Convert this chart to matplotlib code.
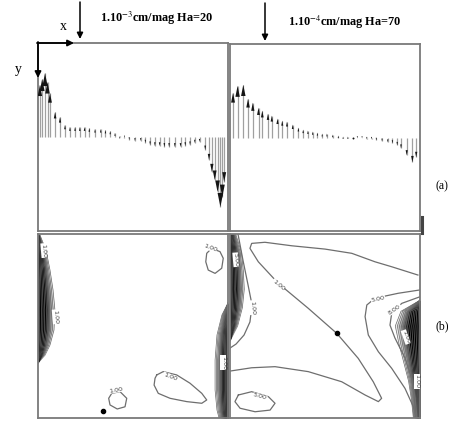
import numpy as np
import matplotlib
matplotlib.use("Agg")
import matplotlib.pyplot as plt

W, H = 476, 421

# ---- top row: vertical velocity along the mid line (pixels of panel height, + = up)
xa = [0.01, 0.022, 0.037, 0.05, 0.063, 0.09, 0.116, 0.142, 0.168, 0.195, 0.22, 0.245,
      0.27, 0.30, 0.33, 0.355, 0.38, 0.405, 0.43, 0.455, 0.48, 0.51, 0.54, 0.565,
      0.59, 0.615, 0.64, 0.665, 0.69, 0.72, 0.75, 0.775, 0.80, 0.825, 0.85, 0.88,
      0.90, 0.915, 0.93, 0.945, 0.96, 0.97, 0.98]
va_px = [52, 58, 64, 55, 44, 25, 20, 12, 10, 10, 10, 10,
         9, 8, 8, 7, 6, 4, 1, -1, -3, -4, -4, -6,
         -8, -9, -9, -10, -10, -10, -10, -9, -8, -6, -5, -13,
         -23, -35, -43, -55, -70, -60, -45]

xb = [0.016, 0.04, 0.07, 0.095, 0.12, 0.15, 0.17, 0.2, 0.22, 0.25, 0.275, 0.3,
      0.33, 0.36, 0.385, 0.41, 0.435, 0.46, 0.485, 0.51, 0.54, 0.57, 0.595, 0.62,
      0.645, 0.67, 0.695, 0.72, 0.745, 0.77, 0.80, 0.83, 0.855, 0.88, 0.90, 0.93,
      0.96, 0.98]
vb_px = [45, 52, 53, 39, 35, 30, 27, 24, 22, 19, 17, 16,
         13, 10, 8, 7, 6, 5, 4, 4, 3, 2, 1, 1,
         0, -1, -1, -2, -2, -3, -4, -5, -6, -8, -11, -18,
         -25, -20]
TOP_H = 188.0

# ---- bottom-left contours (x, y fractions, y measured from the top)
bl_circ_x = [0.914, 0.958, 0.975, 0.967, 0.932, 0.896, 0.883, 0.888, 0.914]
bl_circ_y = [0.078, 0.096, 0.132, 0.186, 0.214, 0.196, 0.151, 0.105, 0.078]
bl_blob_x = [0.625, 0.659, 0.730, 0.800, 0.862, 0.888, 0.862, 0.783, 0.695, 0.633, 0.611, 0.616, 0.625]
bl_blob_y = [0.766, 0.748, 0.766, 0.811, 0.866, 0.902, 0.920, 0.911, 0.893, 0.866, 0.821, 0.784, 0.766]
bl_small_x = [0.388, 0.432, 0.467, 0.458, 0.417, 0.379, 0.372, 0.388]
bl_small_y = [0.866, 0.857, 0.893, 0.939, 0.951, 0.929, 0.893, 0.866]
bl_dot = (0.342, 0.962)
bl_left_y = [0.005, 0.087, 0.196, 0.304, 0.413, 0.522, 0.603, 0.658, 0.70]
bl_left_w = [0.01, 0.042, 0.063, 0.079, 0.089, 0.084, 0.063, 0.037, 0.0]
bl_right_y = [0.375, 0.44, 0.549, 0.685, 0.848, 0.957, 1.0]
bl_right_w = [0.0, 0.032, 0.058, 0.068, 0.068, 0.058, 0.047]

# ---- bottom-right contours
br_c1_x = [0.989, 0.851, 0.763, 0.641, 0.5, 0.325, 0.184, 0.114, 0.105, 0.149, 0.254, 0.412,
           0.562, 0.675, 0.754, 0.798, 0.781, 0.711, 0.588, 0.412, 0.237, 0.114, 0.0]
br_c1_y = [0.223, 0.178, 0.151, 0.105, 0.082, 0.064, 0.045, 0.051, 0.078, 0.151, 0.268, 0.404,
           0.540, 0.676, 0.803, 0.893, 0.911, 0.875, 0.803, 0.748, 0.721, 0.727, 0.745]
br_c5_x = [1.0, 0.886, 0.763, 0.72, 0.711, 0.728, 0.781, 0.851, 0.921, 0.965, 0.983]
br_c5_y = [0.304, 0.322, 0.349, 0.386, 0.449, 0.549, 0.640, 0.730, 0.839, 0.939, 1.0]
br_c8_x = [1.0, 0.904, 0.851, 0.842, 0.868, 0.921, 0.956, 0.974, 0.984]
br_c8_y = [0.341, 0.377, 0.431, 0.495, 0.565, 0.674, 0.783, 0.891, 1.0]
br_wall_x = [0.042, 0.068, 0.095, 0.116, 0.105, 0.074, 0.032, 0.0]
br_wall_y = [0.0, 0.141, 0.277, 0.386, 0.478, 0.549, 0.598, 0.62]
br_ell_x = [0.044, 0.114, 0.202, 0.237, 0.211, 0.132, 0.053, 0.026, 0.044]
br_ell_y = [0.875, 0.857, 0.884, 0.920, 0.957, 0.966, 0.947, 0.911, 0.875]
br_dot = (0.562, 0.540)
br_left_y = [0.0, 0.1, 0.2, 0.3, 0.4, 0.5, 0.58]
br_left_w = [0.03, 0.06, 0.07, 0.075, 0.065, 0.04, 0.0]
br_right_y = [0.36, 0.42, 0.5, 0.6, 0.7, 0.8, 0.9, 1.0]
br_right_w = [0.0, 0.10, 0.13, 0.11, 0.085, 0.06, 0.045, 0.035]

LINE = "#6e6e6e"
FRAME = "#7a7a7a"


def px_axes(fig, x0, y0, x1, y1):
    ax = fig.add_axes([x0 / W, 1 - y1 / H, (x1 - x0) / W, (y1 - y0) / H])
    ax.set_xlim(0, 1)
    ax.set_ylim(1, 0)
    ax.set_xticks([])
    ax.set_yticks([])
    for s in ax.spines.values():
        s.set_color(FRAME)
        s.set_linewidth(1.3)
    return ax


def vectors(ax, x, v_px):
    x = np.asarray(x)
    vp = np.asarray(v_px, dtype=float)
    tip = 0.5 - vp / TOP_H
    ax.vlines(x, 0.5, tip, color="#a0a0a0", lw=0.9, zorder=2)
    up = [(-0.2, -1), (0.2, -1), (0, 0)]
    dn = [(-0.2, 1), (0.2, 1), (0, 0)]
    size = (2 * (2.2 + 0.17 * np.abs(vp)) * 0.72) ** 2
    m_up = vp > 0
    m_dn = vp < 0
    ax.scatter(x[m_up], tip[m_up], s=size[m_up], marker=up, c="#151515", lw=0, zorder=3)
    ax.scatter(x[m_dn], tip[m_dn], s=size[m_dn], marker=dn, c="#151515", lw=0, zorder=3)
    m0 = vp == 0
    ax.scatter(x[m0], tip[m0], s=2, c="#151515", lw=0, zorder=3)


def band(ax, y, w, side, n=10):
    y = np.asarray(y)
    w = np.asarray(w)
    edge = 0.0 if side == "left" else 1.0
    sgn = 1 if side == "left" else -1
    for k in range(n, 0, -1):
        f = k / n
        g = min(0.92, max(0.0, (f - 0.5) * 1.9))
        ax.fill_betweenx(y, edge, edge + sgn * w * f, color=str(g), lw=0, zorder=1)
        ax.plot(edge + sgn * w * f, y, color="#666", lw=0.5, zorder=1)


def clabel(ax, x, y, txt, rot=0):
    ax.text(x, y, txt, fontsize=4.6, rotation=rot, color="#444", ha="center",
            va="center", family="DejaVu Sans", zorder=5,
            bbox=dict(fc="white", ec="none", pad=0.2))


fig = plt.figure(figsize=(W / 100, H / 100), dpi=100)

ax_tl = px_axes(fig, 38, 43, 228, 231)
ax_tr = px_axes(fig, 230, 44, 420, 231)
ax_bl = px_axes(fig, 38, 234, 228, 418)
ax_br = px_axes(fig, 230, 234, 420, 418)

vectors(ax_tl, xa, va_px)
vectors(ax_tr, xb, vb_px)

# bottom-left: Ha = 20
band(ax_bl, bl_left_y, bl_left_w, "left")
band(ax_bl, bl_right_y, bl_right_w, "right")
for cx, cy in [(bl_circ_x, bl_circ_y), (bl_blob_x, bl_blob_y), (bl_small_x, bl_small_y)]:
    ax_bl.plot(cx, cy, color=LINE, lw=0.9, zorder=2)
ax_bl.plot(*bl_dot, "o", color="k", ms=3, zorder=4)
clabel(ax_bl, 0.905, 0.076, "1.00", -20)
clabel(ax_bl, 0.695, 0.775, "1.00", -20)
clabel(ax_bl, 0.41, 0.848, "1.00", 10)
clabel(ax_bl, 0.03, 0.09, "1.00", -85)
clabel(ax_bl, 0.09, 0.45, "1.00", -85)
clabel(ax_bl, 0.975, 0.70, "1.00", -90)

# bottom-right: Ha = 70
band(ax_br, br_left_y, br_left_w, "left")
band(ax_br, br_right_y, br_right_w, "right", n=12)
for cx, cy in [(br_c1_x, br_c1_y), (br_c5_x, br_c5_y), (br_c8_x, br_c8_y),
               (br_wall_x, br_wall_y), (br_ell_x, br_ell_y)]:
    ax_br.plot(cx, cy, color=LINE, lw=0.9, zorder=2)
ax_br.plot(*br_dot, "o", color="k", ms=3, zorder=4)
clabel(ax_br, 0.254, 0.277, "1.00", -40)
clabel(ax_br, 0.779, 0.352, "5.00", 12)
clabel(ax_br, 0.868, 0.41, "8.00", 35)
clabel(ax_br, 0.116, 0.40, "1.00", -85)
clabel(ax_br, 0.03, 0.14, "5.00", -85)
clabel(ax_br, 0.158, 0.884, "5.00", -15)
clabel(ax_br, 0.925, 0.56, "1.00", -70)
clabel(ax_br, 0.985, 0.80, "1.00", -90)

# overlay: axis arrows, annotations
ov = fig.add_axes([0, 0, 1, 1], zorder=10)
ov.set_xlim(0, W)
ov.set_ylim(H, 0)
ov.axis("off")
ov.patch.set_alpha(0)

arw = dict(arrowstyle="-|>", color="k", lw=1.3, mutation_scale=9, shrinkA=0, shrinkB=0)
ov.annotate("", xy=(74, 43), xytext=(37, 43), arrowprops=arw)
ov.annotate("", xy=(38, 78), xytext=(38, 42), arrowprops=arw)
ov.annotate("", xy=(80, 39), xytext=(80, 2), arrowprops=dict(arw, lw=1.1))
ov.annotate("", xy=(265, 41), xytext=(265, 3), arrowprops=dict(arw, lw=1.1))
ov.plot([422, 422], [217, 233], color="#444", lw=2.2)

serif = ["Liberation Serif", "DejaVu Serif"]
plt.rcParams["mathtext.fontset"] = "stix"
ov.text(63, 27, "x", fontsize=10, family=serif, ha="center", va="center")
ov.text(18, 69, "y", fontsize=10, family=serif, ha="center", va="center")
ov.text(157, 18, r"1.10$^{-3}$cm/mag Ha=20", fontsize=8.8, family=serif,
        weight="bold", ha="center", va="center")
ov.text(345, 22, r"1.10$^{-4}$cm/mag Ha=70", fontsize=8.8, family=serif,
        weight="bold", ha="center", va="center")
ov.text(442, 186, "(a)", fontsize=8.5, family=serif, ha="center", va="center")
ov.text(442, 326, "(b)", fontsize=8.5, family=serif, ha="center", va="center")

fig.savefig("out.png", dpi=100)
